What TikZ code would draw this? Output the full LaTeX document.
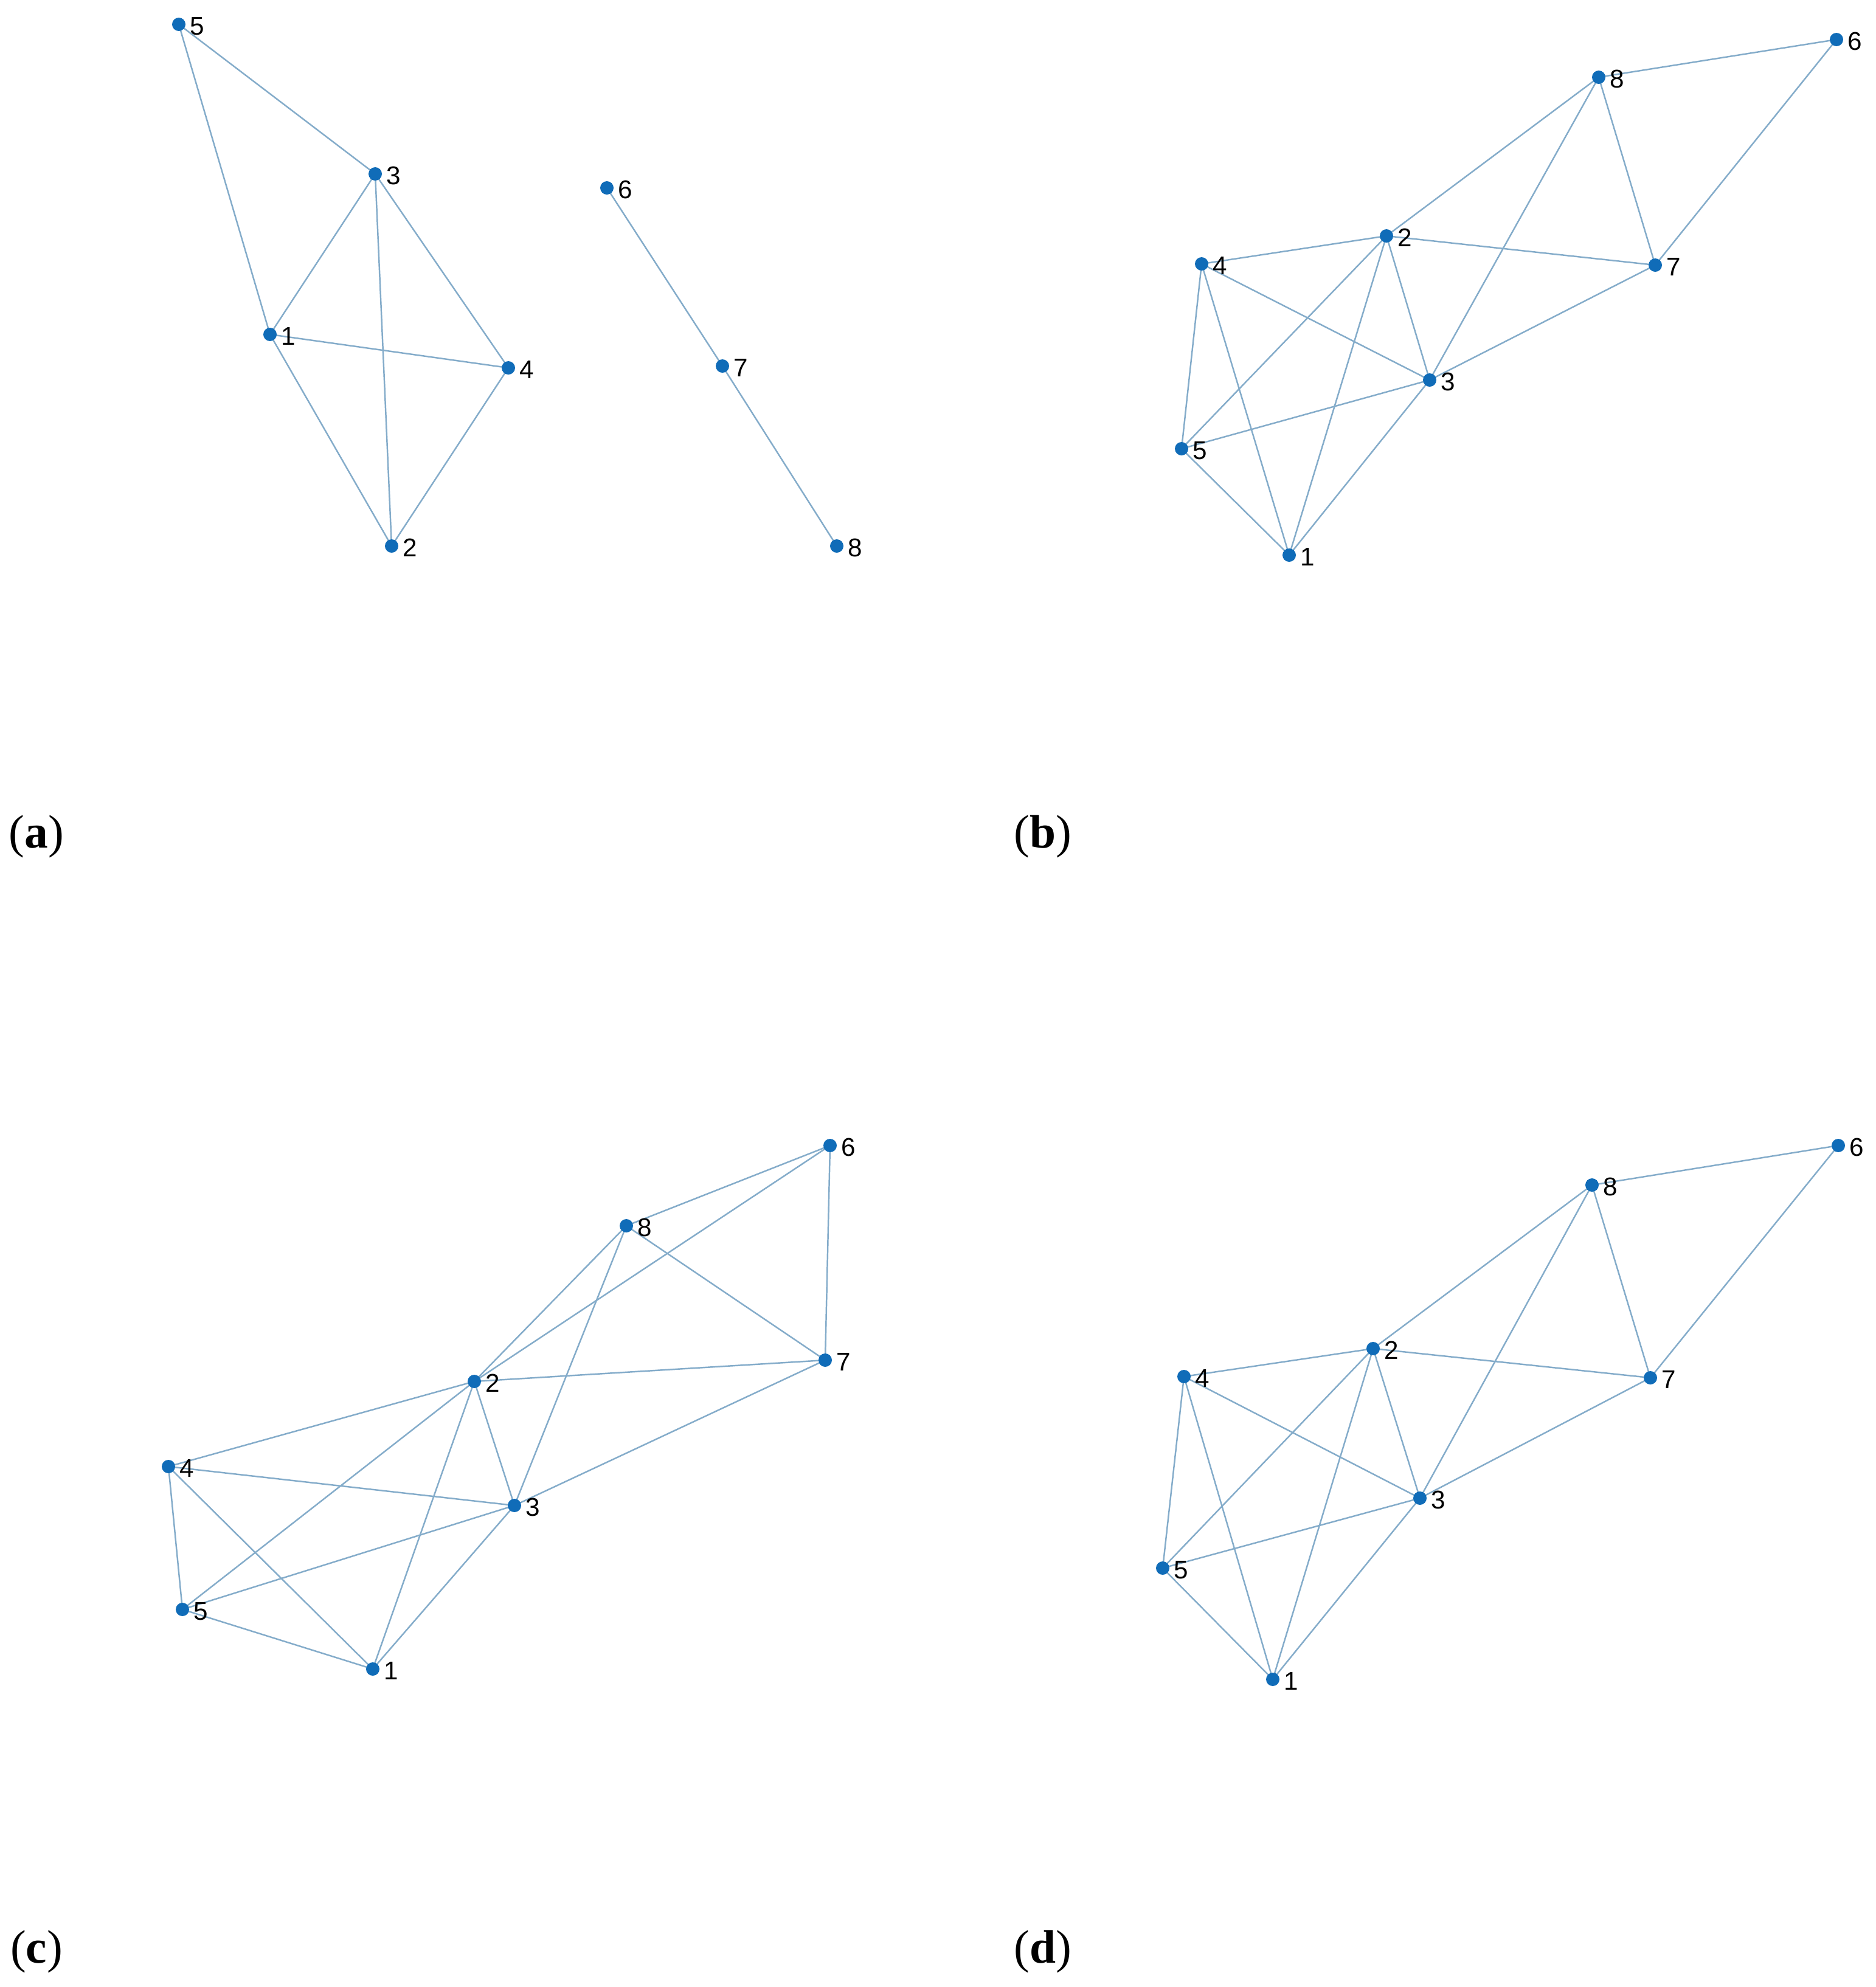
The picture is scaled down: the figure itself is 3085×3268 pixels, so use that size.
\documentclass[tikz,border=0pt]{standalone}
\usepackage{fontspec}
\setmainfont{Liberation Serif}
\newfontfamily\lblfont{Liberation Sans}
\usetikzlibrary{backgrounds}
\definecolor{dotblue}{RGB}{16,108,184}
\definecolor{edgeblue}{RGB}{132,172,202}
\tikzset{
  vtx/.style={circle, fill=dotblue, draw=none, minimum size=0.22cm, inner sep=0pt},
  lbl/.style={font=\lblfont\fontsize{12}{14}\selectfont, inner sep=0pt, anchor=west, text=black},
  edge/.style={draw=edgeblue, line width=0.7pt},
  sublbl/.style={font=\fontsize{22}{26}\selectfont, inner sep=0pt, text=black}
}
\newcommand{\mkv}[4]{%
  \node[vtx] (#1) at (#2,#3) {};
  \node[lbl] (#1l) at ([xshift=0.18cm,yshift=-0.03cm]#1.center) {#4};
}
\begin{document}
\begin{tikzpicture}[x=0.01cm,y=-0.01cm]
\useasboundingbox (0,0) rectangle (3085,3268);
% (a)
\mkv{a5}{294}{40}{5}
\mkv{a3}{617}{286}{3}
\mkv{a1}{444}{550}{1}
\mkv{a4}{836}{605}{4}
\mkv{a2}{644}{898}{2}
\mkv{a6}{998}{309}{6}
\mkv{a7}{1188}{602}{7}
\mkv{a8}{1376}{898}{8}
% (b)
\mkv{b6}{3020}{65}{6}
\mkv{b8}{2629}{127}{8}
\mkv{b2}{2280}{388}{2}
\mkv{b4}{1976}{434}{4}
\mkv{b7}{2722}{436}{7}
\mkv{b3}{2351}{625}{3}
\mkv{b5}{1943}{738}{5}
\mkv{b1}{2120}{913}{1}
% (c)
\mkv{c6}{1365}{1884}{6}
\mkv{c8}{1030}{2016}{8}
\mkv{c7}{1357}{2237}{7}
\mkv{c2}{780}{2272}{2}
\mkv{c4}{277}{2412}{4}
\mkv{c3}{846}{2476}{3}
\mkv{c5}{300}{2647}{5}
\mkv{c1}{613}{2745}{1}
% (d)
\mkv{d6}{3023}{1884}{6}
\mkv{d8}{2618}{1949}{8}
\mkv{d2}{2258}{2218}{2}
\mkv{d4}{1947}{2264}{4}
\mkv{d7}{2714}{2266}{7}
\mkv{d3}{2335}{2464}{3}
\mkv{d5}{1912}{2579}{5}
\mkv{d1}{2093}{2762}{1}
\begin{scope}[on background layer]
\fill[white] (0,0) rectangle (3085,3268);
\foreach \u/\v in {a5/a3,a5/a1,a3/a1,a3/a2,a3/a4,a1/a4,a1/a2,a4/a2,a6/a7,a7/a8}
  \draw[edge] (\u.center) -- (\v.center);
\foreach \p in {b,d}{
  \foreach \u/\v in {8/6,6/7,8/2,8/3,8/7,2/4,2/7,2/3,2/5,2/1,4/3,4/5,4/1,3/5,3/1,3/7,5/1}
    \draw[edge] (\p\u.center) -- (\p\v.center);
}
\foreach \u/\v in {8/6,6/7,6/2,8/2,8/7,8/3,2/7,2/4,2/3,2/5,2/1,4/3,4/5,4/1,3/5,3/1,3/7,5/1}
  \draw[edge] (c\u.center) -- (c\v.center);
\end{scope}
% subfigure labels
\node[sublbl] (la) at (60,1376) {(\textbf{a})};
\node[sublbl] (lb) at (1715,1376) {(\textbf{b})};
\node[sublbl] (lc) at (60,3210) {(\textbf{c})};
\node[sublbl] (ld) at (1715,3210) {(\textbf{d})};
\end{tikzpicture}
\end{document}
